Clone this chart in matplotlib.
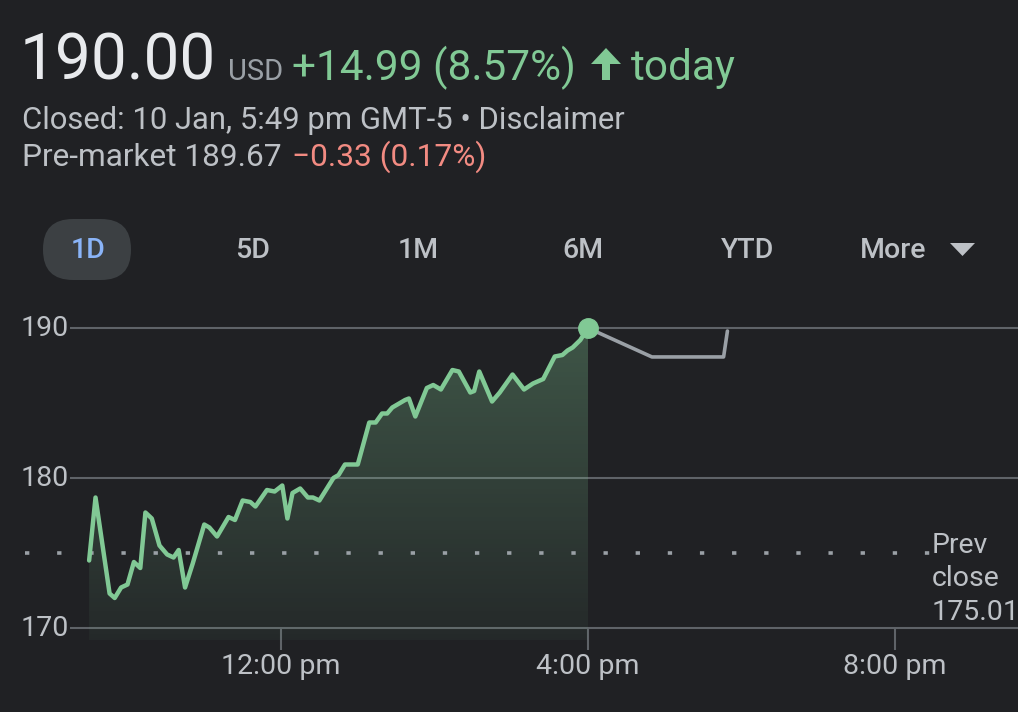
import matplotlib

matplotlib.use("Agg")
import matplotlib.pyplot as plt
import numpy as np
from matplotlib.patches import FancyBboxPatch, Polygon

plt.rcParams["font.family"] = ["Roboto", "DejaVu Sans"]

# ---------------------------------------------------------------
# Data
# ---------------------------------------------------------------
session_times = [
    "09:30", "09:35", "09:46", "09:50", "09:55", "10:00", "10:05", "10:10",
    "10:14", "10:19", "10:25", "10:31", "10:36", "10:40", "10:45", "10:51",
    "11:00", "11:04", "11:10", "11:19", "11:24", "11:30", "11:36", "11:40",
    "11:49", "11:55", "12:01", "12:05", "12:09", "12:15", "12:21", "12:25",
    "12:30", "12:41", "12:45", "12:50", "13:00", "13:09", "13:14", "13:19",
    "13:23", "13:27", "13:31", "13:37", "13:40", "13:45", "13:54", "13:59",
    "14:05", "14:14", "14:19", "14:28", "14:31", "14:35", "14:45", "14:51",
    "15:01", "15:10", "15:17", "15:25", "15:34", "15:40", "15:44", "15:48",
    "15:54", "16:00",
]
session_prices = [
    174.5, 178.7, 172.3, 172.0, 172.7, 172.9, 174.4, 174.0,
    177.7, 177.3, 175.5, 174.9, 174.7, 175.2, 172.7, 174.3,
    176.9, 176.7, 176.1, 177.4, 177.2, 178.5, 178.4, 178.1,
    179.2, 179.1, 179.5, 177.3, 179.0, 179.3, 178.7, 178.7,
    178.5, 180.0, 180.2, 180.9, 180.9, 183.7, 183.7, 184.3,
    184.3, 184.7, 184.9, 185.2, 185.3, 184.1, 186.0, 186.2,
    185.9, 187.2, 187.1, 185.7, 185.8, 187.1, 185.1, 185.7,
    186.9, 185.9, 186.3, 186.6, 188.1, 188.2, 188.5, 188.7,
    189.2, 190.0,
]
after_times = ["16:00", "16:50", "17:46", "17:49"]
after_prices = [190.00, 188.07, 188.07, 189.80]

prev_close = 175.01
y_grid = [170, 180, 190]
x_ticks = ["12:00", "16:00", "20:00"]
x_tick_labels = ["12:00 pm", "4:00 pm", "8:00 pm"]
ranges = ["1D", "5D", "1M", "6M", "YTD", "More"]

BG = "#202124"
GREEN = "#81c995"
GRID = "#5f6368"
TEXT = "#bdc1c6"
AFTER = "#9aa0a6"

W, H = 1018, 712


def hours(s):
    h, m = s.split(":")
    return int(h) + int(m) / 60


def px(x, y):
    """pixel position (from top-left) -> inches for dpi_scale_trans"""
    return x / 100, (H - y) / 100


t_sess = np.array([hours(s) for s in session_times])
p_sess = np.array(session_prices)
t_after = np.array([hours(s) for s in after_times])

fig = plt.figure(figsize=(W / 100, H / 100), dpi=100, facecolor=BG)
tr = fig.dpi_scale_trans

# ---------------------------------------------------------------
# Header
# ---------------------------------------------------------------
fig.text(*px(20, 80), "190.00", transform=tr, fontsize=46, color="#e8eaed",
         va="baseline")
fig.text(*px(228, 80), "USD", transform=tr, fontsize=21, color=AFTER,
         va="baseline")
fig.text(*px(292, 80), "+14.99 (8.57%)", transform=tr, fontsize=30.5,
         color=GREEN, va="baseline")
arrow = Polygon(
    [px(606, 48), px(621, 64), px(610, 64), px(610, 80), px(602, 80),
     px(602, 64), px(591, 64)],
    closed=True, transform=tr, facecolor=GREEN, edgecolor="none")
fig.patches.append(arrow)
fig.text(*px(631, 80), "today", transform=tr, fontsize=30.5, color=GREEN,
         va="baseline")

fig.text(*px(22, 129), "Closed: 10 Jan, 5:49 pm GMT-5 \u2022 Disclaimer",
         transform=tr, fontsize=22.3, color=TEXT, va="baseline")
fig.text(*px(22, 166), "Pre-market 189.67", transform=tr, fontsize=22.8,
         color=TEXT, va="baseline")
fig.text(*px(292, 166), "\u22120.33 (0.17%)", transform=tr, fontsize=22.8,
         color="#f28b82", va="baseline")

# range selector
pill = FancyBboxPatch(px(43, 280), 0.88, 0.61, transform=tr,
                      boxstyle="round,pad=0,rounding_size=0.3",
                      facecolor="#3c4043", edgecolor="none")
fig.patches.append(pill)
centers = [88, 253, 418, 583, 748, 893]
for label, cx in zip(ranges, centers):
    fig.text(*px(cx, 250), label, transform=tr, fontsize=20.5,
             color="#8ab4f8" if label == "1D" else TEXT,
             ha="center", va="center", fontweight="medium")
tri = Polygon([px(950, 243), px(975, 243), px(962.5, 256)], closed=True,
              transform=tr, facecolor=TEXT, edgecolor="none")
fig.patches.append(tri)

# ---------------------------------------------------------------
# Chart
# ---------------------------------------------------------------
ax = fig.add_axes([0, 1 - 650 / H, 1, 340 / H])
ax.set_facecolor(BG)
x0 = 12 - 281 / 76.75
x1 = 12 + (W - 281) / 76.75
y0 = 190 - (650 - 328) / 15
y1 = 190 + (328 - 310) / 15
ax.set_xlim(x0, x1)
ax.set_ylim(y0, y1)
ax.axis("off")

grid_start = 12 + (70 - 281) / 76.75
ax.hlines(y_grid, grid_start, x1, color=GRID, lw=1.5, zorder=1)
for v in y_grid:
    ax.text(12 + (21 - 281) / 76.75, v, str(v), color=TEXT, fontsize=20.5,
            va="center", ha="left")

xt = [hours(s) for s in x_ticks]
ax.vlines(xt, y0, 170, color=GRID, lw=1.5, zorder=1)
for t, lab in zip(xt, x_tick_labels):
    ax.text(t, 190 - (666 - 328) / 15, lab, color=TEXT, fontsize=20.5,
            ha="center", va="center", clip_on=False)

# previous close
ax.hlines(prev_close, 12 + (25 - 281) / 76.75, 12 + (930 - 281) / 76.75,
          color=AFTER, lw=2.6, linestyles=(0, (1.2, 7.7)), zorder=3)
ax.text(12 + (932 - 281) / 76.75, 190 - (579 - 328) / 15,
        "Prev\nclose\n175.01", color=TEXT, fontsize=20.5, ha="left",
        va="center", linespacing=1.31, zorder=5)

# gradient fill under the session line
fill_bottom = 190 - (640 - 328) / 15
grad = np.zeros((256, 1, 4))
grad[..., 0] = 0.506
grad[..., 1] = 0.788
grad[..., 2] = 0.584
grad[:, 0, 3] = np.linspace(0.32, 0.05, 256)
img = ax.imshow(grad, extent=[t_sess[0], t_sess[-1], fill_bottom, p_sess.max()],
                aspect="auto", origin="upper", zorder=2)
verts = np.vstack([[t_sess[0], fill_bottom],
                   np.column_stack([t_sess, p_sess]),
                   [t_sess[-1], fill_bottom]])
clip = Polygon(verts, closed=True, transform=ax.transData, facecolor="none",
               edgecolor="none")
ax.add_patch(clip)
img.set_clip_path(clip)

ax.plot(t_after, after_prices, color=AFTER, lw=2.6, solid_joinstyle="round",
        solid_capstyle="round", zorder=4)
ax.plot(t_sess, p_sess, color=GREEN, lw=3.2, solid_joinstyle="round",
        solid_capstyle="round", zorder=4)
ax.plot(t_sess[-1], p_sess[-1], "o", color=GREEN, ms=14, zorder=6)

fig.savefig("out.png", dpi=100, facecolor=BG)
